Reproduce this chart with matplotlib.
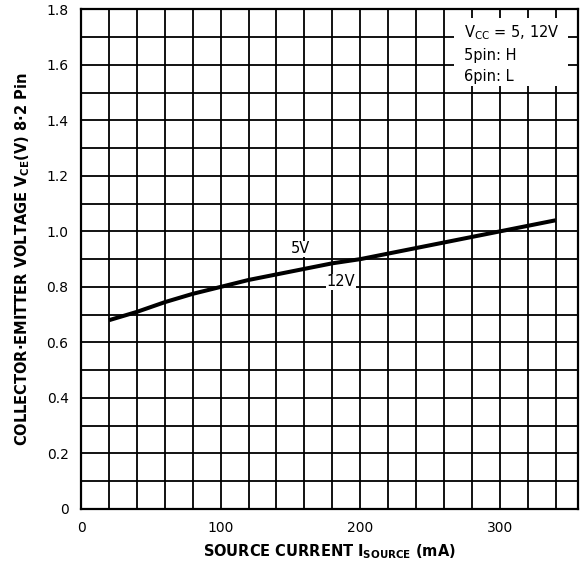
import matplotlib
matplotlib.use("Agg")
import matplotlib.pyplot as plt
from matplotlib.patches import Rectangle

plt.rcParams['font.family'] = ['DejaVu Sans']
plt.rcParams['mathtext.fontset'] = 'dejavusans'

# source current (mA) vs collector-emitter voltage (V), 5V and 12V overlap
current = [20, 40, 60, 80, 100, 120, 140, 160, 180, 200, 220, 240, 260, 280, 300, 320, 340]
vce = [0.68, 0.71, 0.745, 0.775, 0.80, 0.825, 0.845, 0.865, 0.885, 0.90,
       0.92, 0.94, 0.96, 0.98, 1.0, 1.02, 1.04]

x_ticks = [0, 100, 200, 300]
y_ticks = [0, 0.2, 0.4, 0.6, 0.8, 1.0, 1.2, 1.4, 1.6, 1.8]
y_ticklabels = ["0", "0.2", "0.4", "0.6", "0.8", "1.0", "1.2", "1.4", "1.6", "1.8"]

fig = plt.figure(figsize=(5.81, 5.62), dpi=100)
ax = fig.add_axes([81/581, 1 - 509/562, 497/581, 499.7/562])

ax.set_xlim(0, 356)
ax.set_ylim(0, 1.8)

# grid every 20 mA and 0.1 V
for gx in range(20, 356, 20):
    ax.axvline(gx, color='black', lw=1.3, zorder=0.5)
for i in range(1, 18):
    ax.axhline(i * 0.1, color='black', lw=1.3, zorder=0.5)

ax.plot(current, vce, color='black', lw=2.9, solid_capstyle='butt', zorder=2)

ax.set_xticks(x_ticks)
ax.set_yticks(y_ticks)
ax.set_yticklabels(y_ticklabels)
ax.tick_params(length=0, labelsize=10)
ax.tick_params(axis='x', pad=9)
ax.tick_params(axis='y', pad=9)
for s in ax.spines.values():
    s.set_linewidth(1.6)

ax.set_xlabel(r"SOURCE CURRENT I$_{\mathbf{SOURCE}}$ (mA)", fontsize=10.5,
              fontweight='bold', labelpad=5)
ax.set_ylabel(r"COLLECTOR·EMITTER VOLTAGE V$_{\mathbf{CE}}$(V) 8·2 Pin",
              fontsize=10.5, fontweight='bold', labelpad=10)

# condition box
ax.add_patch(Rectangle((267, 1.525), 82, 0.245, facecolor='white',
                       edgecolor='none', zorder=1))
ax.text(274, 1.715, r"V$_{\rm CC}$ = 5, 12V", fontsize=10.5, va='center', zorder=3)
ax.text(274, 1.635, "5pin: H", fontsize=10.5, va='center', zorder=3)
ax.text(274, 1.557, "6pin: L", fontsize=10.5, va='center', zorder=3)

ax.text(157, 0.937, "5V", fontsize=10.5, ha='center', va='center', zorder=3,
        bbox=dict(facecolor='white', edgecolor='none', pad=0.5))
ax.text(186, 0.818, "12V", fontsize=10.5, ha='center', va='center', zorder=3,
        bbox=dict(facecolor='white', edgecolor='none', pad=0.5))

fig.savefig("out.png", dpi=100)
